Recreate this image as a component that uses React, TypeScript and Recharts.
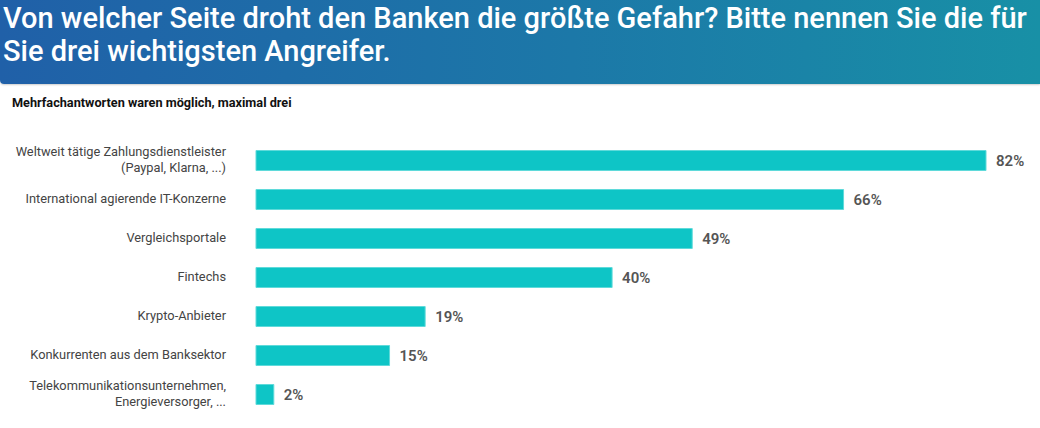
import React from 'react';
import { BarChart, Bar, XAxis, YAxis, LabelList } from 'recharts';

const categories = [
  'Weltweit tätige Zahlungsdienstleister\n(Paypal, Klarna, ...)',
  'International agierende IT-Konzerne',
  'Vergleichsportale',
  'Fintechs',
  'Krypto-Anbieter',
  'Konkurrenten aus dem Banksektor',
  'Telekommunikationsunternehmen,\nEnergieversorger, ...',
];
const shares = [82, 66, 49, 40, 19, 15, 2];

const data = categories.map((name, i) => ({ name, value: shares[i] }));

const CategoryTick = (props: any) => {
  const { x, y, payload } = props;
  const lines: string[] = String(payload.value).split('\n');
  const lineH = 16;
  const startY = y - ((lines.length - 1) * lineH) / 2;
  return (
    <text
      x={x}
      y={startY}
      textAnchor="end"
      fontFamily="Roboto, sans-serif"
      fontSize={12.8}
      fill="#444"
    >
      {lines.map((l, i) => (
        <tspan key={i} x={x} y={startY + i * lineH} dy="0.35em">
          {l}
        </tspan>
      ))}
    </text>
  );
};

const App: React.FC = () => {
  return (
    <div
      style={{
        position: 'absolute',
        left: 0,
        top: 0,
        width: 1040,
        height: 428,
        background: '#fff',
        fontFamily: 'Roboto, sans-serif',
        overflow: 'hidden',
      }}
    >
      <div
        style={{
          position: 'absolute',
          left: 0,
          top: 0,
          width: 1040,
          height: 84,
          background: 'linear-gradient(90deg, #2060a8 0%, #1c78a8 55%, #1890a6 100%)',
          borderBottomLeftRadius: 4,
          boxShadow: '0 1px 2px rgba(0,0,0,0.2)',
        }}
      >
        <div
          style={{
            position: 'absolute',
            left: 3,
            top: 2,
            color: '#fff',
            fontSize: 29,
            fontWeight: 500,
            lineHeight: '33px',
            whiteSpace: 'nowrap',
          }}
        >
          Von welcher Seite droht den Banken die größte Gefahr? Bitte nennen Sie die für
          <br />
          Sie drei wichtigsten Angreifer.
        </div>
      </div>
      <div
        style={{
          position: 'absolute',
          left: 12,
          top: 95,
          fontSize: 12.7,
          fontWeight: 700,
          color: '#111',
          lineHeight: '16px',
        }}
      >
        Mehrfachantworten waren möglich, maximal drei
      </div>
      <div style={{ position: 'absolute', left: 0, top: 0 }}>
        <BarChart
          width={1040}
          height={428}
          data={data}
          layout="vertical"
          margin={{ top: 140.5, right: 54, bottom: 14.5, left: 0 }}
          barCategoryGap={0}
        >
          <XAxis type="number" domain={[0, 82]} hide />
          <YAxis
            type="category"
            dataKey="name"
            width={256}
            axisLine={false}
            tickLine={false}
            tickMargin={24}
            interval={0}
            tick={<CategoryTick />}
          />
          <Bar
            dataKey="value"
            fill="#0ec5c6"
            stroke="#5fdada"
            strokeWidth={1}
            barSize={20}
            isAnimationActive={false}
          >
            <LabelList
              dataKey="value"
              position="right"
              offset={10}
              formatter={(v: any) => `${v}%`}
              style={{
                fontFamily: 'Roboto, sans-serif',
                fontSize: 15,
                fontWeight: 600,
                fill: '#555',
              }}
            />
          </Bar>
        </BarChart>
      </div>
    </div>
  );
};

export default App;
